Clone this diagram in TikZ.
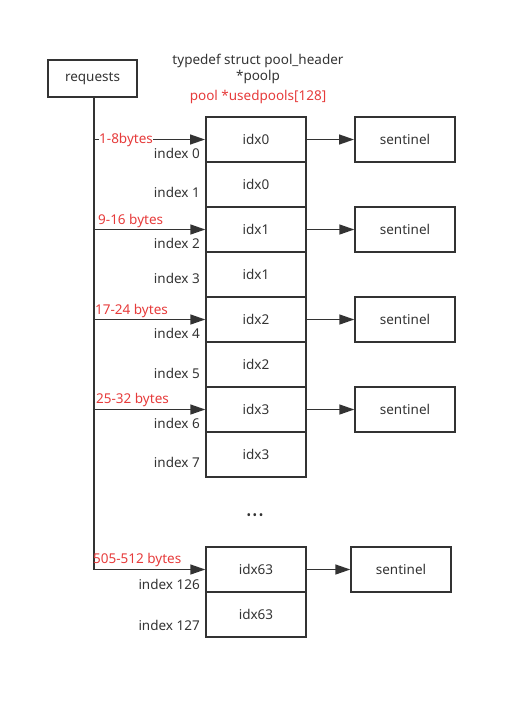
\documentclass[tikz,border=0pt]{standalone}
\usepackage{fontspec}
\setmainfont{Noto Sans}
\usetikzlibrary{arrows.meta}
\definecolor{ink}{HTML}{333333}
\definecolor{redtxt}{HTML}{E63B3B}

\begin{document}
\begin{tikzpicture}
    [x=1pt, y=-1pt,
     every node/.style={inner sep=0pt, text=ink, font=\fontsize{13.5}{16}\selectfont},
     cell/.style={rectangle, minimum width=100pt, minimum height=45pt, draw=ink, line width=1.4pt},
     sentbox/.style={rectangle, minimum width=100pt, minimum height=45pt, draw=ink, line width=1.4pt},
     idxlbl/.style={anchor=east},
     szlbl/.style={anchor=west, text=redtxt},
     arr/.style={line width=1.4pt, draw=ink, -{Triangle[length=15pt, width=10pt]}}]
        \useasboundingbox (0,0) rectangle (517,705);
        % requests and headings
        \node (req) [rectangle, minimum width=89pt, minimum height=37pt, draw=ink, line width=1.4pt] at (92.5, 78.5) {requests};
        \node (t1) at (258, 61) {typedef struct pool\_header};
        \node (t2) at (258, 77) {*poolp};
        \node (t3) [text=redtxt] at (258, 97) {pool *usedpools[128]};
        % usedpools cells
        \node (c0) [cell, line width=2pt] at (256, 139.5) {idx0};
        \node (c1) [cell] at (256, 184.5) {idx0};
        \node (c2) [cell] at (256, 229.5) {idx1};
        \node (c3) [cell] at (256, 274.5) {idx1};
        \node (c4) [cell] at (256, 319.5) {idx2};
        \node (c5) [cell] at (256, 364.5) {idx2};
        \node (c6) [cell] at (256, 409.5) {idx3};
        \node (c7) [cell] at (256, 454.5) {idx3};
        \node (c126) [cell] at (256, 569.5) {idx63};
        \node (c127) [cell] at (256, 614.5) {idx63};
        \node (dots) [font=\fontsize{12}{14}\selectfont] at (255, 517) {•\hspace{1.5pt}•\hspace{1.5pt}•};
        % sentinels
        \node (s0) [sentbox, line width=2pt] at (405, 139.5) {sentinel};
        \node (s2) [sentbox] at (405, 229.5) {sentinel};
        \node (s4) [sentbox] at (405, 319.5) {sentinel};
        \node (s6) [sentbox] at (405, 409.5) {sentinel};
        \node (s126) [sentbox] at (401, 569.5) {sentinel};
        % index labels
        \node (i0) [idxlbl] at (200, 153) {index 0};
        \node (i1) [idxlbl] at (200, 192) {index 1};
        \node (i2) [idxlbl] at (200, 243) {index 2};
        \node (i3) [idxlbl] at (200, 278) {index 3};
        \node (i4) [idxlbl] at (200, 333) {index 4};
        \node (i5) [idxlbl] at (200, 373) {index 5};
        \node (i6) [idxlbl] at (200, 423) {index 6};
        \node (i7) [idxlbl] at (200, 462) {index 7};
        \node (i126) [idxlbl] at (200, 584) {index 126};
        \node (i127) [idxlbl] at (200, 625) {index 127};
        % request branches
        \coordinate (b0) at (94, 139.5);
        \coordinate (b2) at (94, 229.5);
        \coordinate (b4) at (94, 319.5);
        \coordinate (b6) at (94, 409.5);
        \coordinate (b126) at (94, 569.5);
        \draw [line width=1.4pt, draw=ink] (req.south -| b0) -- (b126);
        \draw [arr] (b0) -- (c0.west);
        \draw [arr] (b2) -- (c2.west);
        \draw [arr] (b4) -- (c4.west);
        \draw [arr] (b6) -- (c6.west);
        \draw [arr] (b126) -- (c126.west);
        \node (r0) [szlbl, fill=white] at (99, 140) {1-8bytes};
        \node (r2) [szlbl] at (98, 221) {9-16 bytes};
        \node (r4) [szlbl] at (95, 311) {17-24 bytes};
        \node (r6) [szlbl] at (96, 400) {25-32 bytes};
        \node (r126) [szlbl] at (93, 560) {505-512 bytes};
        % to sentinels
        \draw [arr] (c0) -- (s0);
        \draw [arr] (c2) -- (s2);
        \draw [arr] (c4) -- (s4);
        \draw [arr] (c6) -- (s6);
        \draw [arr] (c126) -- (s126);
    \end{tikzpicture}
\end{document}
